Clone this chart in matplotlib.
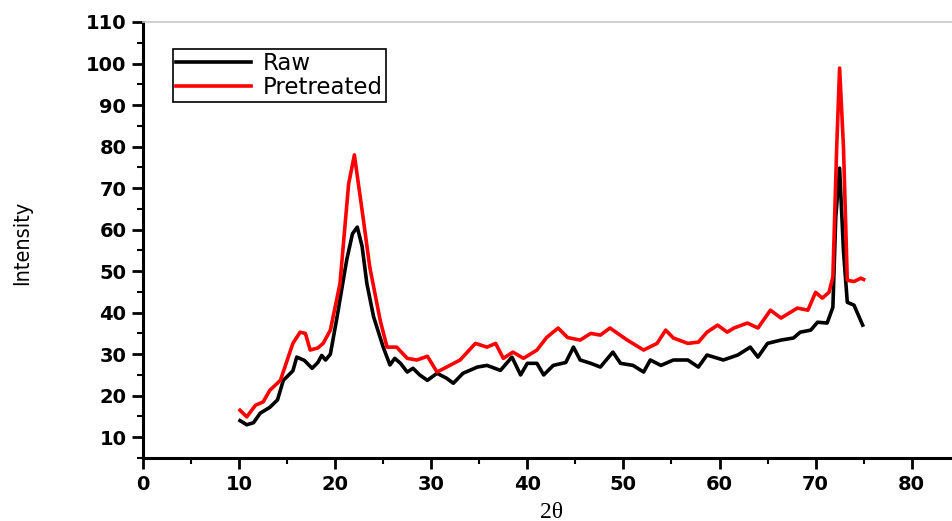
import matplotlib
matplotlib.use("Agg")
import matplotlib.pyplot as plt
from matplotlib.ticker import MultipleLocator

# digitised XRD patterns (2theta, intensity)
raw_x = [10.1, 10.8, 11.5, 12.2, 13.2, 14.0, 14.6, 15.6, 16.0, 16.8, 17.6, 18.2, 18.6, 19.0,
         19.5, 20.2, 21.2, 21.8, 22.3, 22.8, 23.3, 24.0, 25.0, 25.7, 26.2, 26.8, 27.5, 28.1,
         28.8, 29.6, 30.6, 31.6, 32.3, 33.3, 34.8, 35.8, 37.2, 38.4, 39.3, 40.0, 41.0, 41.7,
         42.7, 44.0, 44.8, 45.5, 46.6, 47.6, 48.9, 49.7, 51.0, 52.1, 52.8, 53.9, 55.2, 56.7,
         57.8, 58.7, 60.4, 61.9, 63.2, 64.0, 65.0, 66.4, 67.7, 68.4, 69.5, 70.2, 71.2, 71.8,
         72.1, 72.5, 72.9, 73.3, 74.0, 74.9]
raw_y = [14.0, 13.0, 13.5, 15.8, 17.2, 19.0, 23.7, 26.0, 29.3, 28.5, 26.6, 28.0, 29.7, 28.6,
         30.0, 39.0, 52.7, 59.0, 60.6, 56.0, 47.0, 39.0, 31.7, 27.4, 29.0, 27.8, 25.7, 26.6,
         25.0, 23.7, 25.4, 24.2, 23.0, 25.4, 26.9, 27.3, 26.1, 29.3, 25.0, 27.8, 27.8, 25.0,
         27.3, 28.0, 31.7, 28.6, 27.8, 26.9, 30.5, 27.8, 27.3, 25.7, 28.6, 27.3, 28.6, 28.6,
         26.9, 29.8, 28.6, 29.8, 31.7, 29.3, 32.6, 33.4, 33.9, 35.3, 35.8, 37.7, 37.5, 41.3,
         63.0, 74.8, 55.0, 42.5, 41.8, 37.0]

pre_x = [10.1, 10.8, 11.7, 12.5, 13.2, 14.3, 15.0, 15.6, 16.35, 16.9, 17.4, 18.2, 18.75, 19.5,
         20.5, 21.4, 22.0, 22.9, 23.6, 24.7, 25.4, 26.4, 27.5, 28.5, 29.6, 30.6, 31.6, 33.0,
         34.6, 35.8, 36.7, 37.5, 38.5, 39.6, 41.0, 42.0, 43.2, 44.2, 45.5, 46.6, 47.6, 48.6,
         50.4, 52.1, 53.5, 54.4, 55.2, 56.7, 57.8, 58.7, 59.8, 60.8, 61.5, 62.9, 64.0, 65.3,
         66.4, 68.1, 69.2, 70.0, 70.7, 71.4, 71.8, 72.2, 72.5, 72.9, 73.3, 74.0, 74.7, 75.0]
pre_y = [16.5, 14.9, 17.7, 18.5, 21.3, 23.7, 28.5, 32.6, 35.3, 35.0, 31.0, 31.5, 32.6, 35.8,
         47.0, 71.0, 78.0, 63.0, 51.0, 38.0, 31.7, 31.7, 29.0, 28.6, 29.5, 25.7, 26.9, 28.6,
         32.6, 31.7, 32.6, 29.0, 30.5, 29.0, 31.0, 34.0, 36.3, 34.0, 33.4, 35.0, 34.6, 36.3,
         33.4, 31.0, 32.6, 35.8, 33.9, 32.6, 32.9, 35.3, 37.0, 35.3, 36.3, 37.5, 36.3, 40.6,
         38.7, 41.1, 40.6, 44.9, 43.5, 44.9, 48.6, 80.0, 98.9, 80.0, 47.8, 47.5, 48.3, 48.0]

fig = plt.figure(figsize=(9.53, 5.21), dpi=100)
ax = fig.add_axes([143/953, 63/521, 1 - 143/953 + 0.002, (458 - 22)/521])

ax.plot(raw_x, raw_y, color="black", lw=2.6, label="Raw")
ax.plot(pre_x, pre_y, color="red", lw=2.6, label="Pretreated")

ax.set_xlim(0, 84.5)
ax.set_ylim(5, 110)
ax.set_xticks(range(0, 81, 10))
ax.set_yticks(range(10, 111, 10))
ax.xaxis.set_minor_locator(MultipleLocator(5))
ax.yaxis.set_minor_locator(MultipleLocator(5))
ax.tick_params(which="major", direction="out", length=8, width=2, labelsize=14, pad=4)
ax.tick_params(which="minor", direction="out", length=4, width=1.5)
for lab in ax.get_xticklabels() + ax.get_yticklabels():
    lab.set_fontweight("bold")
    lab.set_family("DejaVu Sans")

ax.spines["left"].set_linewidth(2.2)
ax.spines["bottom"].set_linewidth(2.2)
ax.spines["top"].set_linewidth(1.2)
ax.spines["top"].set_color("#c8c8c8")
ax.spines["right"].set_visible(False)

fig.text(22/953, 1 - 243/521, "Intensity", rotation=90, ha="center", va="center",
         fontsize=15.5, fontstretch="condensed",
         family=["Liberation Sans Narrow", "DejaVu Sans"])
fig.text(552/953, 1 - 512/521, "2\u03b8", ha="center", va="center",
         fontsize=17, family=["Liberation Serif", "DejaVu Serif"])

leg = ax.legend(loc="upper left", bbox_to_anchor=(173/953, 1 - 49/521),
                bbox_transform=fig.transFigure, borderaxespad=0, fancybox=False,
                framealpha=1, edgecolor="black", handlelength=3.3, handletextpad=0.5,
                borderpad=0.12, labelspacing=0.05,
                prop={"family": "DejaVu Sans", "size": 16.5})
leg.get_frame().set_linewidth(1.2)

fig.savefig("out.png", dpi=100)
